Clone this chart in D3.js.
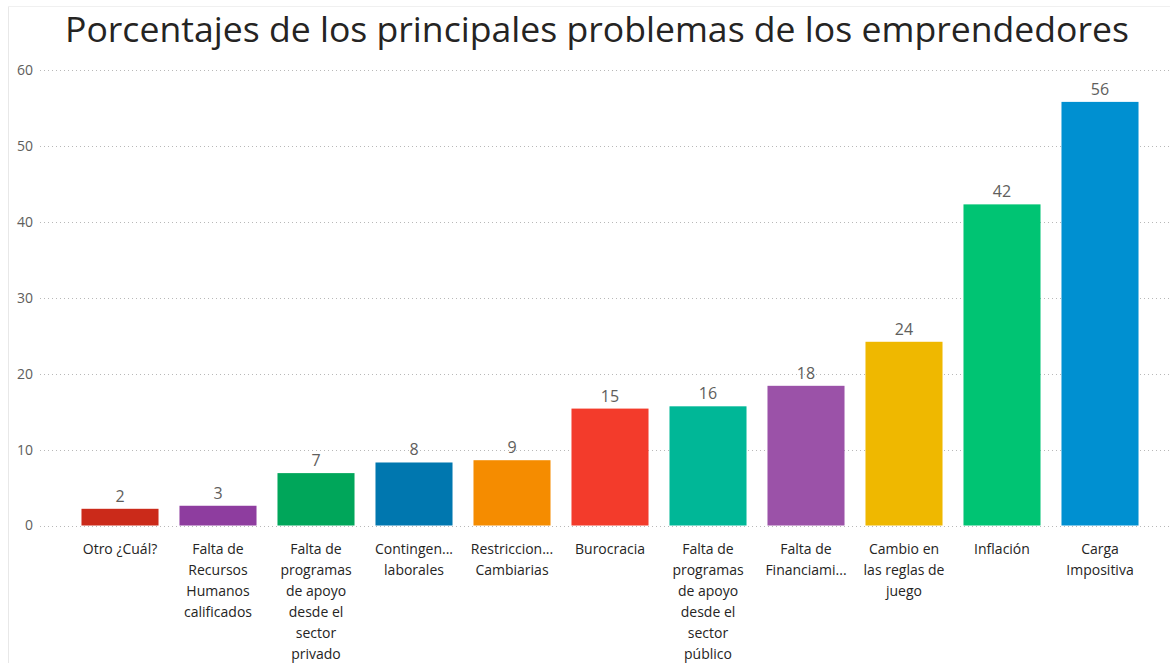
<!DOCTYPE html>
<html>
<head>
<meta charset="utf-8">
<script src="https://cdn.jsdelivr.net/npm/d3@7"></script>
<style>
  html, body { margin: 0; padding: 0; background: #fff; }
  svg { display: block; }
</style>
</head>
<body>
<svg id="chart" width="1170" height="663"></svg>
<script>
const categories = [
  "Otro ¿Cuál?",
  "Falta de Recursos Humanos calificados",
  "Falta de programas de apoyo desde el sector privado",
  "Contingencias laborales",
  "Restricciones Cambiarias",
  "Burocracia",
  "Falta de programas de apoyo desde el sector público",
  "Falta de Financiamiento",
  "Cambio en las reglas de juego",
  "Inflación",
  "Carga Impositiva"
];
const tickLabelLines = [
  ["Otro ¿Cuál?"],
  ["Falta de", "Recursos", "Humanos", "calificados"],
  ["Falta de", "programas", "de apoyo", "desde el", "sector", "privado"],
  ["Contingen...", "laborales"],
  ["Restriccion...", "Cambiarias"],
  ["Burocracia"],
  ["Falta de", "programas", "de apoyo", "desde el", "sector", "público"],
  ["Falta de", "Financiami..."],
  ["Cambio en", "las reglas de", "juego"],
  ["Inflación"],
  ["Carga", "Impositiva"]
];
const values = [2.2, 2.6, 6.9, 8.3, 8.6, 15.4, 15.7, 18.4, 24.2, 42.3, 55.8];
const valueLabels = ["2", "3", "7", "8", "9", "15", "16", "18", "24", "42", "56"];
const colors = ["#CB2A1A", "#8E3D9F", "#00A65A", "#0077AF", "#F58C00", "#F33B2B",
                "#00B797", "#9B52A8", "#EFB800", "#00C473", "#0090D1"];
const yTicks = [0, 10, 20, 30, 40, 50, 60];
const title = "Porcentajes de los principales problemas de los emprendedores";

const svg = d3.select("#chart");
const W = 1170, H = 663;
const font = "'Open Sans', 'Noto Sans', sans-serif";

// frame
svg.append("line").attr("x1", 8.5).attr("x2", 8.5).attr("y1", 6).attr("y2", H)
  .attr("stroke", "#e8e8e8").attr("stroke-width", 1);
svg.append("line").attr("x1", 8).attr("x2", W).attr("y1", 6.5).attr("y2", 6.5)
  .attr("stroke", "#f0f0f0").attr("stroke-width", 1);

// title
svg.append("text")
  .attr("x", 597).attr("y", 42)
  .attr("text-anchor", "middle")
  .attr("font-family", font)
  .attr("font-size", 35)
  .attr("font-weight", 500)
  .attr("fill", "#252423")
  .attr("textLength", 1064)
  .attr("lengthAdjust", "spacingAndGlyphs")
  .text(title);

const x = d3.scaleBand().domain(categories).range([71, 1149]).paddingInner(0.214).paddingOuter(0.107);
const y = d3.scaleLinear().domain([0, 60]).range([525.5, 70]);

// grid
const grid = svg.append("g");
grid.selectAll("line").data(yTicks).join("line")
  .attr("x1", 40).attr("x2", W)
  .attr("y1", d => Math.round(y(d)) + 0.5).attr("y2", d => Math.round(y(d)) + 0.5)
  .attr("stroke", "#b8b8b8").attr("stroke-width", 1)
  .attr("stroke-dasharray", "1,3");

// y axis labels
const yAxis = d3.axisLeft(y).tickValues(yTicks).tickSize(0).tickPadding(0);
const yg = svg.append("g").attr("transform", "translate(33,0)").call(yAxis);
yg.select(".domain").remove();
yg.selectAll("text")
  .attr("font-family", font).attr("font-size", 14).attr("fill", "#605E5C");

// bars
svg.append("g").selectAll("rect").data(values).join("rect")
  .attr("x", (d, i) => x(categories[i]))
  .attr("width", x.bandwidth())
  .attr("y", d => y(d))
  .attr("height", d => y(0) - y(d))
  .attr("fill", (d, i) => colors[i]);

// value labels
svg.append("g").selectAll("text").data(values).join("text")
  .attr("x", (d, i) => x(categories[i]) + x.bandwidth() / 2)
  .attr("y", d => y(d) - 7)
  .attr("text-anchor", "middle")
  .attr("font-family", font).attr("font-size", 16).attr("fill", "#605E5C")
  .text((d, i) => valueLabels[i]);

// x axis labels
const xAxis = d3.axisBottom(x).tickSize(0).tickFormat(() => "");
const xg = svg.append("g").attr("transform", `translate(0,${y(0)})`).call(xAxis);
xg.select(".domain").remove();
xg.selectAll(".tick").each(function(d, i) {
  const t = d3.select(this).select("text");
  t.text(null).attr("y", 0).attr("dy", null)
    .attr("font-family", font).attr("font-size", 14).attr("fill", "#252423");
  tickLabelLines[i].forEach((line, k) => {
    t.append("tspan").attr("x", 0).attr("y", 28 + k * 21).text(line);
  });
});
</script>
</body>
</html>
